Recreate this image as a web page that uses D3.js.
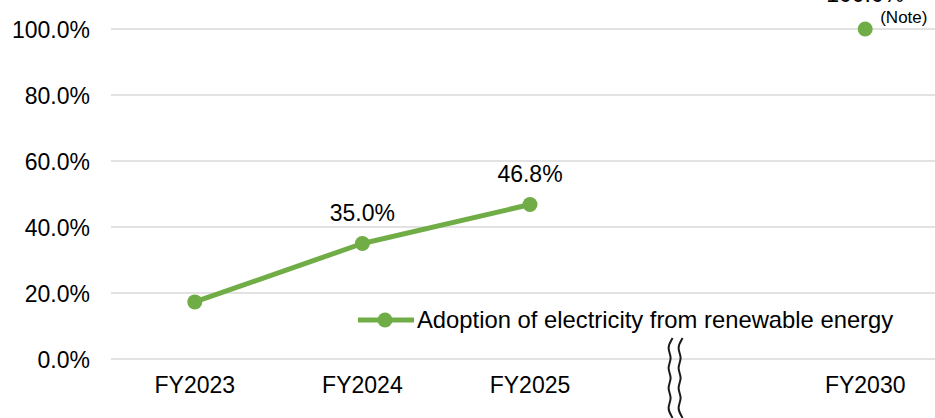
<!DOCTYPE html>
<html>
<head>
<meta charset="utf-8">
<script src="https://cdn.jsdelivr.net/npm/d3@7/dist/d3.min.js"></script>
<style>
  html, body { margin: 0; padding: 0; background: #fff; }
  svg { display: block; }
  text { font-family: "Liberation Sans", Arial, sans-serif; fill: #000; }
</style>
</head>
<body>
<svg id="chart" width="935" height="418"></svg>
<script>
// Renewable electricity adoption ratio by fiscal year
const categories = ["FY2023", "FY2024", "FY2025", "gap", "FY2030"];
const tickLabels = ["FY2023", "FY2024", "FY2025", "", "FY2030"];
const actualValues = [0.173, 0.350, 0.468, null, null];
const targetValues = [null, null, null, null, 1.000];
const valueLabels = ["", "35.0%", "46.8%", "", "100.0%"];
const yTicks = [0, 0.2, 0.4, 0.6, 0.8, 1.0];
const seriesName = "Adoption of electricity from renewable energy";
const noteText = "(Note)";

const green = "#70AD47";
const fontSize = 23;
const svg = d3.select("#chart");

const x = d3.scaleBand().domain(categories).range([111, 949]);
const y = d3.scaleLinear().domain([0, 1]).range([359, 29]);
const cx = c => x(c) + x.bandwidth() / 2;

// gridlines
svg.append("g").selectAll("line").data(yTicks).join("line")
  .attr("x1", 111).attr("x2", 949)
  .attr("y1", d => y(d)).attr("y2", d => y(d))
  .attr("stroke", "#d9d9d9").attr("stroke-width", 1.5);

// y axis labels
const yAxis = d3.axisLeft(y).tickValues(yTicks).tickFormat(d3.format(".1%")).tickSize(0).tickPadding(0);
const gy = svg.append("g").attr("transform", "translate(90,0)").call(yAxis);
gy.select(".domain").remove();
gy.selectAll("text").attr("font-size", fontSize).attr("dy", "0.35em")
  .style("font-family", "'Liberation Sans', Arial, sans-serif").attr("fill", "#000");

// x axis labels
const xAxis = d3.axisBottom(x).tickFormat((d, i) => tickLabels[i]).tickSize(0).tickPadding(0);
const gx = svg.append("g").attr("transform", "translate(0,377)").call(xAxis);
gx.select(".domain").remove();
gx.selectAll("text").attr("font-size", fontSize).attr("dy", "0.71em")
  .style("font-family", "'Liberation Sans', Arial, sans-serif").attr("fill", "#000");

// axis break symbol between FY2025 and FY2030
const bx = cx("gap") - 28;
const waveY = d3.range(0, 9).map(i => 338 + i * 10);
const wave = d3.line().x(d => d[0]).y(d => d[1]).curve(d3.curveBasis);
[0, 10].forEach(off => {
  const p = waveY.map((yy, i) => [bx + off + (i % 2 === 0 ? 3 : -3), yy]);
  svg.append("path").attr("d", wave(p))
    .attr("fill", "none").attr("stroke", "#1a1a1a").attr("stroke-width", 2);
});

// actual series line
const pts = categories.map((c, i) => ({ c, v: actualValues[i], label: valueLabels[i], target: false }))
  .filter(d => d.v !== null);
svg.append("path").datum(pts)
  .attr("d", d3.line().x(d => cx(d.c)).y(d => y(d.v)))
  .attr("fill", "none").attr("stroke", green).attr("stroke-width", 5)
  .attr("stroke-linejoin", "round");
svg.append("g").selectAll("circle").data(pts).join("circle")
  .attr("cx", d => cx(d.c)).attr("cy", d => y(d.v)).attr("r", 7.5).attr("fill", green);

// target point
const tpts = categories.map((c, i) => ({ c, v: targetValues[i], label: valueLabels[i], target: true }))
  .filter(d => d.v !== null);
svg.append("g").selectAll("circle").data(tpts).join("circle")
  .attr("cx", d => cx(d.c)).attr("cy", d => y(d.v)).attr("r", 7.5).attr("fill", green);

// data labels (the target label sits a little higher, above the note)
svg.append("g").selectAll("text").data(pts.concat(tpts).filter(d => d.label)).join("text")
  .attr("x", d => cx(d.c)).attr("y", d => y(d.v) - (d.target ? 27 : 23))
  .attr("text-anchor", "middle").attr("font-size", fontSize).text(d => d.label);

// note marker beside the target
svg.append("text").attr("x", cx("FY2030") + 15).attr("y", y(1) - 6)
  .attr("font-size", 17).text(noteText);

// legend
const lg = svg.append("g").attr("transform", "translate(358,320)");
lg.append("line").attr("x1", 0).attr("x2", 56).attr("y1", 0).attr("y2", 0)
  .attr("stroke", green).attr("stroke-width", 5);
lg.append("circle").attr("cx", 27).attr("cy", 0).attr("r", 7.5).attr("fill", green);
lg.append("text").attr("x", 59).attr("y", 0).attr("dy", "0.35em")
  .attr("font-size", 23.8).text(seriesName);
</script>
</body>
</html>
